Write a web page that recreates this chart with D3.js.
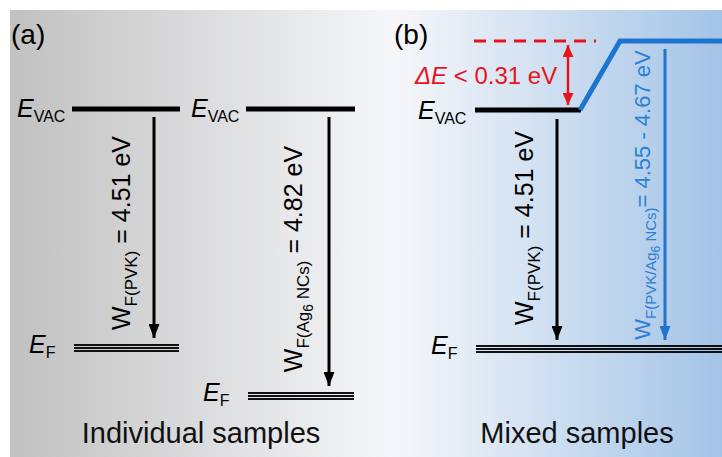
<!DOCTYPE html>
<html>
<head>
<meta charset="utf-8">
<script src="https://cdn.jsdelivr.net/npm/d3@7/dist/d3.min.js"></script>
<style>
  html, body { margin: 0; padding: 0; background: #fff; }
  svg { display: block; font-family: "Liberation Sans", Arial, sans-serif; }
</style>
</head>
<body>
<svg id="chart" width="722" height="457"></svg>
<script>
// Work functions (eV) of the individual films
const sampleNames = ["PVK", "Ag6 NCs"];
const workFunctions = [4.51, 4.82];
// Work function range measured for the mixed film (eV)
const mixedRange = [4.55, 4.67];
// Upper bound of the vacuum-level shift (eV)
const deltaE = 0.31;
const panelTitles = ["Individual samples", "Mixed samples"];
const panelTags = ["(a)", "(b)"];

const svg = d3.select("#chart");
const W = 722, H = 457;

// background: grey fading to white, then to light blue
const defs = svg.append("defs");
const grad = defs.append("linearGradient").attr("id", "bg").attr("x1", "0%").attr("x2", "100%");
grad.append("stop").attr("offset", "0%").attr("stop-color", "#c1c1c1");
grad.append("stop").attr("offset", "54%").attr("stop-color", "#f6f7fa");
grad.append("stop").attr("offset", "100%").attr("stop-color", "#a3c4e7");
svg.append("rect").attr("x", 10).attr("y", 10).attr("width", W - 10).attr("height", H - 10).attr("fill", "url(#bg)");

function marker(id, color, w, l) {
  const m = defs.append("marker").attr("id", id)
    .attr("viewBox", `0 0 ${l} ${w}`).attr("refX", l).attr("refY", w / 2)
    .attr("markerWidth", l).attr("markerHeight", w).attr("markerUnits", "userSpaceOnUse")
    .attr("orient", "auto-start-reverse");
  m.append("path").attr("d", `M0,0 L${l},${w / 2} L0,${w} Z`).attr("fill", color);
}
marker("headK", "#000", 11, 14);
marker("headB", "#1f74cf", 11, 14);
marker("headR", "#e8141c", 11, 12);

// energy scales (schematic, piecewise linear)
// panel a: energy below vacuum level
const ya = d3.scaleLinear().domain([0, workFunctions[0], workFunctions[1]]).range([109, 348, 396]);
// panel b: energy above the common Fermi level
const yb = d3.scaleLinear().domain([0, workFunctions[0], workFunctions[0] + deltaE]).range([349, 110, 41]);

const SUB = 16;

function labelE(x, y, sub) {
  const t = svg.append("text").attr("x", x).attr("y", y).attr("font-size", 25).attr("fill", "#000");
  t.append("tspan").attr("font-style", "italic").text("E");
  t.append("tspan").attr("font-size", SUB).attr("dy", 5).text(sub);
}

function levelLine(x1, x2, y, color, width) {
  svg.append("line").attr("x1", x1).attr("x2", x2).attr("y1", y).attr("y2", y)
    .attr("stroke", color).attr("stroke-width", width);
}

function fermiLine(x1, x2, y) {
  [-3, 0, 3].forEach(o => levelLine(x1, x2, y + o, "#111", 1.8));
}

function arrow(x, y1, y2, color, head) {
  svg.append("line").attr("x1", x).attr("x2", x).attr("y1", y1).attr("y2", y2)
    .attr("stroke", color).attr("stroke-width", 3).attr("marker-end", `url(#${head})`);
}

// rotated work-function label; parts: [text, level] where level 0 = main, 1 = sub, 2 = sub-sub
function wfLabel(x, yc, parts, color, size) {
  const g = svg.append("g").attr("transform", `translate(${x},${yc}) rotate(-90)`);
  const t = g.append("text").attr("text-anchor", "middle").attr("fill", color).attr("font-size", size);
  const sizes = [size, size * 0.68, size * 0.55];
  const offs = [0, size * 0.26, size * 0.44];
  let cur = 0;
  parts.forEach(([s, lv]) => {
    t.append("tspan").attr("font-size", sizes[lv]).attr("dy", offs[lv] - offs[cur]).text(s);
    cur = lv;
  });
}

// ---------- panel (a) ----------
svg.append("text").attr("x", 11).attr("y", 44).attr("font-size", 28).text(panelTags[0]);

const colsA = [
  { lx: 17, x1: 72, x2: 180, ax: 154, tx: 130, ty: 233 },
  { lx: 191, x1: 246, x2: 355, ax: 329, tx: 302, ty: 259 }
];
colsA.forEach((c, i) => {
  const yv = ya(0), yf = ya(workFunctions[i]);
  labelE(c.lx, yv + 8, "VAC");
  levelLine(c.x1, c.x2, yv, "#000", 5);
  arrow(c.ax, yv + 8, yf - 10, "#000", "headK");
  labelE(c.lx + 12, yf + 5, "F");
  fermiLine(c.x1 + 2, c.x2 - 1, yf);
  const label = i === 0
    ? [["W", 0], ["F(PVK)", 1], [" = " + workFunctions[0].toFixed(2) + " eV", 0]]
    : [["W", 0], ["F(Ag", 1], ["6", 2], [" NCs)", 1], [" = " + workFunctions[1].toFixed(2) + " eV", 0]];
  wfLabel(c.tx, c.ty, label, "#000", 25);
});

svg.append("text").attr("x", 201).attr("y", 443).attr("text-anchor", "middle")
  .attr("font-size", 29).attr("fill", "#111").text(panelTitles[0]);

// ---------- panel (b) ----------
svg.append("text").attr("x", 394).attr("y", 44).attr("font-size", 28).text(panelTags[1]);

const yVacP = yb(workFunctions[0]);
const yVacTop = yb(workFunctions[0] + deltaE);
const yF = yb(0);

// reference level if the full 0.31 eV shift occurred
svg.append("line").attr("x1", 474).attr("x2", 596).attr("y1", yVacTop).attr("y2", yVacTop)
  .attr("stroke", "#e8141c").attr("stroke-width", 3).attr("stroke-dasharray", "12,8");
svg.append("line").attr("x1", 568).attr("x2", 568).attr("y1", yVacTop + 4).attr("y2", yVacP - 5)
  .attr("stroke", "#e8141c").attr("stroke-width", 2.5)
  .attr("marker-start", "url(#headR)").attr("marker-end", "url(#headR)");
const dt = svg.append("text").attr("x", 415).attr("y", 84).attr("font-size", 24).attr("fill", "#e8141c");
dt.append("tspan").attr("font-style", "italic").text("\u0394E");
dt.append("tspan").text(" < " + deltaE.toFixed(2) + " eV");

// PVK vacuum level and blue mixed-film vacuum level
labelE(418, yVacP + 9, "VAC");
levelLine(475, 581, yVacP, "#000", 5);
svg.append("path")
  .attr("d", d3.line()([[580, yVacP], [620, yVacTop], [W, yVacTop]]))
  .attr("fill", "none").attr("stroke", "#1f74cf").attr("stroke-width", 5)
  .attr("stroke-linejoin", "miter");

arrow(557, yVacP + 9, yF - 9, "#000", "headK");
wfLabel(533, 228,
  [["W", 0], ["F(PVK)", 1], [" = " + workFunctions[0].toFixed(2) + " eV", 0]], "#000", 25);

arrow(665, yVacTop + 8, yF - 9, "#1f74cf", "headB");
wfLabel(650, 195,
  [["W", 0], ["F(PVK/Ag", 1], ["6", 2], [" NCs)", 1],
   ["= " + mixedRange[0].toFixed(2) + " - " + mixedRange[1].toFixed(2) + " eV", 0]], "#2c7fd3", 22);

labelE(431, yF + 5, "F");
fermiLine(476, W, yF);

svg.append("text").attr("x", 577).attr("y", 443).attr("text-anchor", "middle")
  .attr("font-size", 29).attr("fill", "#111").text(panelTitles[1]);
</script>
</body>
</html>
